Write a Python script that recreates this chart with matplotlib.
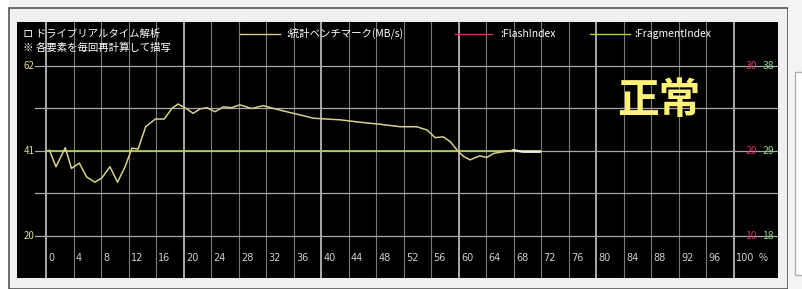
import numpy as np
import matplotlib
matplotlib.use("Agg")
import matplotlib.pyplot as plt
from matplotlib.patches import Rectangle

plt.rcParams['font.family'] = ['Noto Sans CJK JP', 'DejaVu Sans']

# データ (読み取り値)
bench_x = [0.5, 1.45, 2.8, 3.7, 4.85, 5.9, 7.1, 8.1, 9.3, 10.4, 11.5, 12.5, 13.4,
           14.5, 15.9, 17.2, 18.3, 19.2, 20.4, 21.4, 22.4, 23.4, 24.6, 25.8, 27.0,
           28.2, 29.9, 31.6, 33.1, 35.0, 37.0, 38.9, 40.8, 42.8, 45.7, 48.6, 51.5,
           53.9, 55.4, 56.6, 57.8, 58.8, 60.0, 60.8, 61.7, 62.2, 63.1, 64.1, 65.1,
           66.5, 68.0]
bench_y = [41.2, 37.1, 41.8, 36.7, 38.0, 34.6, 33.3, 34.3, 37.1, 33.3, 37.1, 41.7, 41.5,
           47.0, 48.9, 48.9, 51.5, 52.6, 51.5, 50.3, 51.4, 51.7, 50.7, 51.9, 51.7,
           52.4, 51.5, 52.2, 51.5, 50.7, 49.9, 49.1, 48.9, 48.7, 48.1, 47.6, 47.0,
           47.0, 46.2, 44.3, 44.5, 43.3, 40.8, 39.6, 38.8, 39.2, 39.8, 39.4, 40.4,
           40.8, 41.2]
cursor_x = [68.0, 69.4, 71.8]
cursor_y = [41.2, 40.8, 40.8]
frag_x = [0, 72]
frag_y = [41, 41]

x_ticks = list(range(0, 101, 4))
y_lines = [62, 51.5, 41, 30.5, 20]
left_labels = {62: '62', 41: '41', 20: '20'}
right_flash = {62: '30', 41: '20', 20: '10'}
right_frag = {62: '38', 41: '29', 20: '18'}

fig = plt.figure(figsize=(8.03, 2.89), dpi=100)
fig.patch.set_facecolor('#f2f2f2')

W, H = 803, 289
def fx(px):
    return px / W
def fy(py):
    return 1 - py / H

# 外枠
def frame(x0, y0, x1, y1, **kw):
    r = Rectangle((fx(x0), fy(y1)), fx(x1 - x0), fy(y0) - fy(y1),
                  transform=fig.transFigure, zorder=-5, **kw)
    fig.patches.append(r)

frame(0, 0, 9, 289, facecolor='white', edgecolor='none')
frame(9, 8, 788, 289, facecolor='#f0f0f0', edgecolor='#555555', linewidth=1.2)
frame(788, 0, 803, 289, facecolor='#f4f4f4', edgecolor='none')
frame(795, 72, 805, 275, facecolor='white', edgecolor='#b0b0b0', linewidth=1)

ax = fig.add_axes([fx(17), fy(278), fx(778 - 17), fy(22) - fy(278)])
ax.set_facecolor('black')
ax.set_xlim(-4.22, 106.47)
ax.set_ylim(9.62, 72.87)
for s in ax.spines.values():
    s.set_visible(False)
ax.set_xticks([])
ax.set_yticks([])

# グリッド
for x in x_ticks:
    major = x % 20 == 0
    ax.axvline(x, color='#d8d8d8' if major else '#7a7a7a', lw=1.1 if major else 0.8, zorder=1)
for y in y_lines:
    ax.plot([-1.6, 106.5], [y, y], color='#a8a8a8', lw=0.9, zorder=1)

# データ線
ax.plot(frag_x, frag_y, color='#a8d048', lw=1.3, zorder=3)
ax.plot(bench_x, bench_y, color='#d9cf8c', lw=1.1, zorder=4)
ax.plot(cursor_x, cursor_y, color='#f0f0e0', lw=1.6, zorder=4)

# 軸ラベル
for x in x_ticks:
    ax.text(x + 0.35, 14.5, str(x), color='#d0d0d0', fontsize=7, ha='left', va='center',
            family='DejaVu Sans', zorder=5)
ax.text(103.6, 14.5, '%', color='#d0d0d0', fontsize=7, ha='left', va='center', zorder=5)
for y, s in left_labels.items():
    ax.text(-3.3, y, s, color='#e0d890', fontsize=7, ha='left', va='center', zorder=5,
            bbox=dict(facecolor='black', edgecolor='none', pad=0.5))
for y, s in right_flash.items():
    ax.text(101.7, y, s, color='#d03070', fontsize=7.5, ha='left', va='center', zorder=5)
for y, s in right_frag.items():
    ax.text(104.2, y, s, color='#90d080', fontsize=7.5, ha='left', va='center', zorder=5)

# タイトル・凡例
ax.text(-3.4, 70.0, 'ロ ドライブリアルタイム解析', color='white', fontsize=7.5, ha='left', va='center', zorder=6)
ax.text(-3.4, 66.6, '※ 各要素を毎回再計算して描写', color='white', fontsize=7.5, ha='left', va='center', zorder=6)
ax.plot([28.2, 34.0], [70.0, 70.0], color='#d9cf8c', lw=1.0, zorder=6)
ax.text(34.9, 70.0, ':統計ベンチマーク(MB/s)', color='white', fontsize=7.5, ha='left', va='center', zorder=6)
ax.plot([59.5, 64.9], [70.0, 70.0], color='#d03070', lw=1.0, zorder=6)
ax.text(66.0, 70.0, ':FlashIndex', color='white', fontsize=7.5, ha='left', va='center', zorder=6)
ax.plot([79.1, 84.9], [70.0, 70.0], color='#a8d048', lw=1.0, zorder=6)
ax.text(85.6, 70.0, ':FragmentIndex', color='white', fontsize=7.5, ha='left', va='center', zorder=6)

# 状態表示
ax.text(83.0, 53.4, '正常', color='#fff27a', fontsize=30, fontweight='bold',
        ha='left', va='center', zorder=7)

fig.savefig('out.png', dpi=100, facecolor=fig.get_facecolor())
